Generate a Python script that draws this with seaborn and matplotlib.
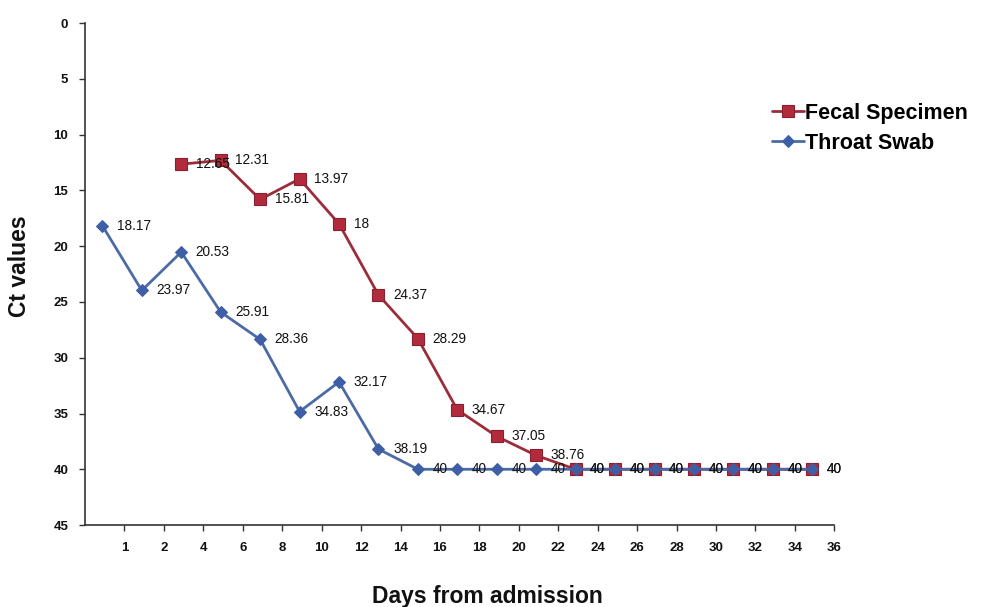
import numpy as np
import pandas as pd
import matplotlib
matplotlib.use("Agg")
import matplotlib.pyplot as plt
import seaborn as sns

# ---- data ----
tick_labels = ["1", "2", "4", "6", "8", "10", "12", "14", "16", "18",
               "20", "22", "24", "26", "28", "30", "32", "34", "36"]
throat_swab = [18.17, 23.97, 20.53, 25.91, 28.36, 34.83, 32.17, 38.19,
               40, 40, 40, 40, 40, 40, 40, 40, 40, 40, 40]
fecal_specimen = [np.nan, np.nan, 12.65, 12.31, 15.81, 13.97, 18, 24.37,
                  28.29, 34.67, 37.05, 38.76, 40, 40, 40, 40, 40, 40, 40]
series_names = ["Fecal Specimen", "Throat Swab"]

sns.set_theme(style="white")
plt.rcParams["font.family"] = ["Liberation Sans", "DejaVu Sans"]

fig = plt.figure(figsize=(9.83, 6.07), dpi=100)
ax = fig.add_axes([0.0865, 0.135, 0.7623, 0.827])

idx = np.arange(len(tick_labels))
df = pd.DataFrame({"pos": idx, "fecal": fecal_specimen, "throat": throat_swab})

red_line = "#9B2D3B"
red_mark = "#B22B3C"
blue_line = "#4C6AA5"
blue_mark = "#3E5FA6"

sns.lineplot(data=df.dropna(subset=["fecal"]), x="pos", y="fecal", ax=ax,
             color=red_line, linewidth=2.0, marker="s", markersize=8.5,
             markerfacecolor=red_mark, markeredgecolor="#8B1F2F",
             markeredgewidth=0.8, label=series_names[0])
sns.lineplot(data=df, x="pos", y="throat", ax=ax,
             color=blue_line, linewidth=2.0, marker="D", markersize=6,
             markerfacecolor=blue_mark, markeredgecolor=blue_mark,
             label=series_names[1])

def fmt(v):
    return f"{v:g}"

for xs, ys in [(idx, fecal_specimen), (idx, throat_swab)]:
    for x, y in zip(xs, ys):
        if np.isnan(y):
            continue
        ax.annotate(fmt(y), (x, y), xytext=(10.5, 0), textcoords="offset points",
                    ha="left", va="center", fontsize=9.8, color="#111111",
                    zorder=5)

# axes
ax.set_xlim(-0.44, 18.56)
ax.set_xticks(idx + 0.56)
ax.set_xticklabels(tick_labels, fontsize=9.5, fontweight="bold", color="#111111")
ax.set_ylim(45, 0)
ax.set_yticks(np.arange(0, 46, 5))
ax.set_yticklabels([str(v) for v in range(0, 46, 5)], fontsize=9.5,
                   fontweight="bold", color="#111111")
ax.tick_params(axis="both", direction="out", length=4, width=1.0,
               color="#333333", pad=8)
ax.tick_params(axis="x", bottom=True)
ax.tick_params(axis="y", left=True)
for s in ["top", "right"]:
    ax.spines[s].set_visible(False)
for s in ["left", "bottom"]:
    ax.spines[s].set_color("#333333")
    ax.spines[s].set_linewidth(1.2)
ax.set_xlabel("")
ax.set_ylabel("")
ax.grid(False)

fig.text(487 / 983, 1 - 596 / 607, "Days from admission", ha="center",
         va="center", fontsize=16.5, fontweight="bold", color="#111111")
fig.text(20 / 983, 1 - 266 / 607, "Ct values", ha="center", va="center",
         rotation=90, fontsize=16.5, fontweight="bold", color="#111111")

leg = ax.legend(loc="upper left", bbox_to_anchor=(772 / 983, 1 - 103 / 607),
                bbox_transform=fig.transFigure, frameon=False,
                prop={"size": 15.5, "weight": "bold"}, handlelength=1.5,
                handletextpad=0.05, labelspacing=0.4, borderaxespad=0,
                borderpad=0)
for t in leg.get_texts():
    t.set_color("#000000")

fig.savefig("out.png", dpi=100, facecolor="white")
